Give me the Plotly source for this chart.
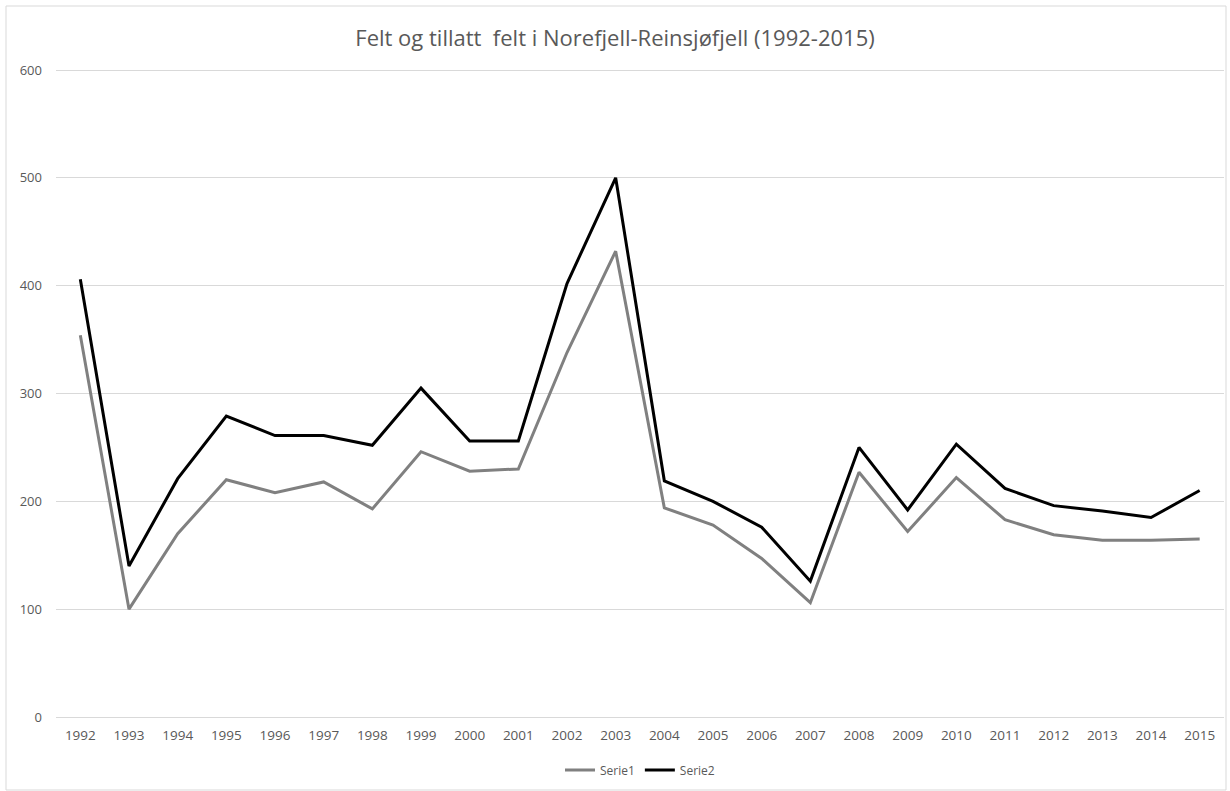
import plotly.graph_objects as go

years = [str(y) for y in range(1992, 2016)]
serie1 = [354, 100, 170, 220, 208, 218, 193, 246, 228, 230, 338, 432, 194, 178, 147, 106, 227, 172, 222, 183, 169, 164, 164, 165]
serie2 = [406, 140, 221, 279, 261, 261, 252, 305, 256, 256, 402, 500, 219, 200, 176, 126, 250, 192, 253, 212, 196, 191, 185, 210]
title_text = "Felt og tillatt  felt i Norefjell-Reinsjøfjell (1992-2015)"

fig = go.Figure()
fig.add_trace(go.Scatter(x=years, y=serie1, mode="lines", name="Serie1",
                         line=dict(color="#808080", width=3)))
fig.add_trace(go.Scatter(x=years, y=serie2, mode="lines", name="Serie2",
                         line=dict(color="#000000", width=3)))

W, H = 1230, 791
L, R, T, B = 56, 6, 65, 69
pw = W - L - R
ph = H - T - B
y0_px, y600_px = 717, 70
upp = 600 / (y0_px - y600_px)  # value units per pixel
ymin = -(H - B - y0_px) * upp
ymax = 600 + (y600_px - T) * upp

def px_x(p):
    return (p - L) / pw

def px_y(p):
    return (H - B - p) / ph

fig.update_layout(
    width=W, height=H,
    margin=dict(l=L, r=R, t=T, b=B),
    paper_bgcolor="white", plot_bgcolor="white",
    font=dict(family="Open Sans, Liberation Sans, sans-serif", color="#595959", size=12),
    title=dict(text=title_text, x=0.5, xanchor="center", y=1 - 38 / H, yanchor="middle",
               font=dict(size=22, color="#595959")),
    showlegend=True,
    legend=dict(orientation="h", x=0.5, xanchor="center", y=px_y(770), yanchor="middle",
                font=dict(size=12, color="#595959")),
    xaxis=dict(type="category", range=[-0.5, 23.5], showgrid=False, showline=False,
               ticks="", tickfont=dict(size=13.5, color="#595959"), zeroline=False,
               ticklabelstandoff=3),
    yaxis=dict(range=[ymin, ymax], tickvals=[0, 100, 200, 300, 400, 500, 600],
               showgrid=True, gridcolor="#d9d9d9", gridwidth=1,
               zeroline=False, showline=False, ticks="", ticklabelstandoff=13,
               tickfont=dict(size=13, color="#595959")),
    shapes=[dict(type="rect", xref="paper", yref="paper",
                 x0=px_x(6), x1=px_x(1226), y0=px_y(790), y1=px_y(6),
                 line=dict(color="#d9d9d9", width=1), fillcolor="rgba(0,0,0,0)", layer="below")],
)

fig.write_html("out.html", config={"displayModeBar": False},
               post_script="document.body.style.margin='0';document.body.style.overflow='hidden';")
